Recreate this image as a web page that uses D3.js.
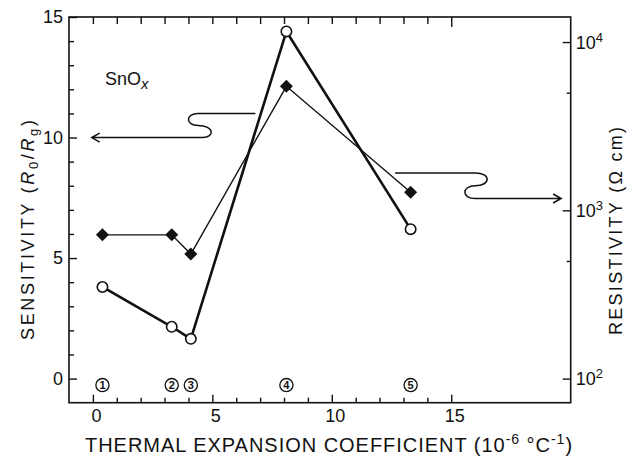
<!DOCTYPE html>
<html>
<head>
<meta charset="utf-8">
<script src="https://cdn.jsdelivr.net/npm/d3@7/dist/d3.min.js"></script>
<style>
  html, body { margin: 0; padding: 0; background: #fff; }
  svg { display: block; }
  text { font-family: "Liberation Sans", Arial, sans-serif; fill: #111; }
</style>
</head>
<body>
<svg id="chart" width="633" height="458"></svg>
<script>
// Thermal expansion coefficient of the substrate (10^-6 /°C) for samples 1-5
const expansion = [0.4, 3.3, 4.1, 8.1, 13.3];
const sampleIds = ["1", "2", "3", "4", "5"];
// Gas sensitivity R0/Rg (open circles, left axis)
const sensitivity = [3.8, 2.15, 1.65, 14.4, 6.2];
// Resistivity in ohm·cm (filled diamonds, right log axis)
const resistivity = [715, 715, 550, 5460, 1280];

// Axis ticks
const xTicks = d3.range(0, 16);
const xLabelled = [0, 5, 10, 15];
const yTicks = d3.range(0, 16);
const yLabelled = [0, 5, 10, 15];
const rTicks = [100, 500, 1000, 5000, 10000];
const rLabelled = { 100: "2", 1000: "3", 10000: "4" };

const svg = d3.select("#chart");
const L = 69, R = 570.7, T = 17, B = 402.7;

const x = d3.scaleLinear().domain([-1, 20]).range([L, R]);
const y = d3.scaleLinear().domain([-1, 15]).range([B, T]);
const yR = d3.scaleLog().domain([71.9, 14090]).range([B, T]);

const ink = "#111";

// Frame
svg.append("rect")
  .attr("x", L).attr("y", T).attr("width", R - L).attr("height", B - T)
  .attr("fill", "none").attr("stroke", ink).attr("stroke-width", 1.6);

function styleTicks(g, isMajor, major, minor, attr) {
  g.select(".domain").remove();
  g.selectAll(".tick line")
    .attr("stroke", ink).attr("stroke-width", 1.4)
    .attr(attr, d => (isMajor(d) ? major : minor));
  g.selectAll(".tick text")
    .style("font-family", '"Liberation Sans", Arial, sans-serif')
    .style("font-size", "18px").attr("fill", ink);
}

// Bottom axis (ticks point inward)
const gx = svg.append("g").attr("transform", `translate(0,${B})`)
  .call(d3.axisBottom(x).tickValues(xTicks).tickSize(-5).tickPadding(6)
    .tickFormat(d => xLabelled.includes(d) ? d : ""));
styleTicks(gx, d => d % 5 === 0, -8, -5, "y2");
gx.selectAll(".tick text").attr("dx", 3).attr("dy", "0.75em");

// Top axis ticks
const gt = svg.append("g").attr("transform", `translate(0,${T})`)
  .call(d3.axisTop(x).tickValues(xTicks).tickSize(-7).tickFormat(""));
styleTicks(gt, d => d === 15, 10, 7, "y2");

// Left axis
const gy = svg.append("g").attr("transform", `translate(${L},0)`)
  .call(d3.axisLeft(y).tickValues(yTicks).tickSize(-5).tickPadding(6)
    .tickFormat(d => yLabelled.includes(d) ? d : ""));
styleTicks(gy, d => d % 5 === 0, 8, 5, "x2");

// Right log axis
const gr = svg.append("g").attr("transform", `translate(${R},0)`)
  .call(d3.axisRight(yR).tickValues(rTicks).tickSize(-8).tickPadding(5).tickFormat(""));
styleTicks(gr, d => d in rLabelled, -8, -4, "x2");
gr.selectAll(".tick").filter(d => d in rLabelled).each(function (d) {
  const t = d3.select(this).append("text")
    .attr("x", 5).attr("y", 6)
    .style("font-size", "18px").attr("fill", ink);
  t.append("tspan").text("10");
  t.append("tspan").attr("dy", -7).style("font-size", "13px").text(rLabelled[d]);
});

// Sensitivity series
svg.append("path")
  .datum(expansion.map((e, i) => [e, sensitivity[i]]))
  .attr("fill", "none").attr("stroke", ink).attr("stroke-width", 2.6)
  .attr("stroke-linejoin", "round")
  .attr("d", d3.line().x(d => x(d[0])).y(d => y(d[1])));

// Resistivity series
svg.append("path")
  .datum(expansion.map((e, i) => [e, resistivity[i]]))
  .attr("fill", "none").attr("stroke", ink).attr("stroke-width", 1.4)
  .attr("d", d3.line().x(d => x(d[0])).y(d => yR(d[1])));

svg.selectAll("path.diamond")
  .data(expansion.map((e, i) => [e, resistivity[i]]))
  .join("path").attr("class", "diamond")
  .attr("transform", d => `translate(${x(d[0])},${yR(d[1])})`)
  .attr("d", "M0,-6.5L6.5,0L0,6.5L-6.5,0Z")
  .attr("fill", ink);

svg.selectAll("circle.pt")
  .data(expansion.map((e, i) => [e, sensitivity[i]]))
  .join("circle").attr("class", "pt")
  .attr("cx", d => x(d[0])).attr("cy", d => y(d[1])).attr("r", 5.2)
  .attr("fill", "#fff").attr("stroke", ink).attr("stroke-width", 1.6);

// Sample numbers along the bottom
const ids = svg.selectAll("g.sid").data(expansion.map((e, i) => [e, sampleIds[i]]))
  .join("g").attr("class", "sid")
  .attr("transform", d => `translate(${x(d[0])},${y(-0.27)})`);
ids.append("circle").attr("r", 6.6).attr("fill", "#fff")
  .attr("stroke", ink).attr("stroke-width", 1.3);
ids.append("text").attr("text-anchor", "middle").attr("y", 4)
  .style("font-size", "11px").style("font-weight", "bold").text(d => d[1]);

// Material label
const mat = svg.append("text").attr("x", 105).attr("y", 85).style("font-size", "18px");
mat.append("tspan").text("SnO");
mat.append("tspan").attr("dy", 4).style("font-style", "italic").style("font-size", "15px").text("x");

// Arrows tying each curve to its axis
const arrow = d3.path();
function leftArrow() {
  const p = `M${x(6.8)},${y(11)}L${x(4.4)},${y(11)}` +
    `C${x(3.87)},${y(11)} ${x(3.87)},${y(10.5)} ${x(4.4)},${y(10.5)}` +
    `C${x(5.1)},${y(10.5)} ${x(5.1)},${y(10)} ${x(4.6)},${y(10)}` +
    `L${x(-0.05)},${y(10)}`;
  const tx = x(-0.05), ty = y(10);
  return p + `M${tx + 8},${ty - 4.5}L${tx},${ty}L${tx + 8},${ty + 4.5}`;
}
function rightArrow() {
  const p = `M${x(12.65)},${y(8.53)}L${x(16.0)},${y(8.53)}` +
    `C${x(16.67)},${y(8.53)} ${x(16.67)},${y(8.0)} ${x(16.0)},${y(8.0)}` +
    `C${x(15.43)},${y(8.0)} ${x(15.43)},${y(7.47)} ${x(16.0)},${y(7.47)}` +
    `L${x(19.6)},${y(7.47)}`;
  const tx = x(19.6), ty = y(7.47);
  return p + `M${tx - 8},${ty - 4.5}L${tx},${ty}L${tx - 8},${ty + 4.5}`;
}
svg.append("path").attr("d", leftArrow()).attr("fill", "none")
  .attr("stroke", ink).attr("stroke-width", 1.5);
svg.append("path").attr("d", rightArrow()).attr("fill", "none")
  .attr("stroke", ink).attr("stroke-width", 1.5);

// Spread a text element to a target length with letter spacing
function fit(t, target) {
  const n = t.text().length;
  const w = t.node().getComputedTextLength();
  t.style("letter-spacing", ((target - w) / (n - 1)) + "px");
}

// X axis title
const xt = svg.append("text").attr("x", 85).attr("y", 452).style("font-size", "20px");
xt.append("tspan").text("THERMAL EXPANSION COEFFICIENT  (10");
xt.append("tspan").attr("dy", -8).style("font-size", "14px").text("-6");
xt.append("tspan").attr("dy", 8).text(" °C");
xt.append("tspan").attr("dy", -8).style("font-size", "14px").text("-1");
xt.append("tspan").attr("dy", 8).text(")");
fit(xt, 488);

// Left axis title
const yt = svg.append("text").attr("transform", "translate(33.5,340) rotate(-90)")
  .style("font-size", "18px");
yt.append("tspan").text("SENSITIVITY (");
yt.append("tspan").style("font-style", "italic").text("R");
yt.append("tspan").attr("dy", 4).style("font-size", "13px").text("0");
yt.append("tspan").attr("dy", -4).text("/");
yt.append("tspan").style("font-style", "italic").text("R");
yt.append("tspan").attr("dy", 4).style("font-size", "13px").text("g");
yt.append("tspan").attr("dy", -4).text(")");
fit(yt, 220);

// Right axis title
const rt = svg.append("text").attr("transform", "translate(622,335) rotate(-90)")
  .style("font-size", "18px");
rt.text("RESISTIVITY (Ω cm)");
fit(rt, 208);
</script>
</body>
</html>
